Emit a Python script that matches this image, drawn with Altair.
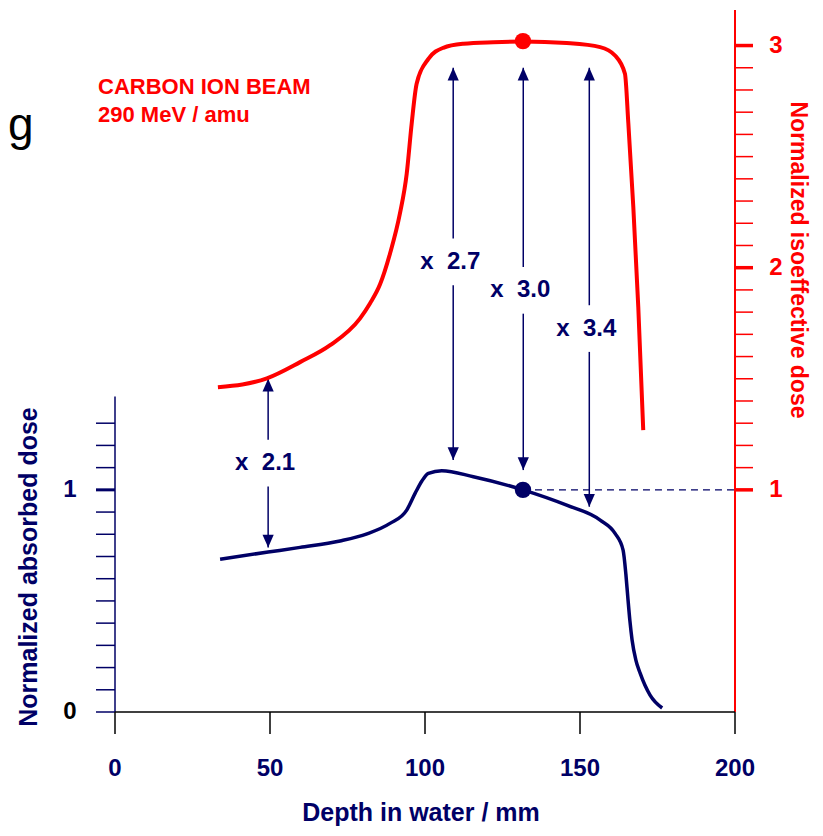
import altair as alt
import pandas as pd

NAVY = "#000066"
RED = "#ff0000"
FONT = "Liberation Sans"

# ---- data ----
abs_depth = [33.9, 49.4, 59.7, 72.6, 81.3, 88.7, 94.1, 96.8, 99.0, 101.1, 105.4, 115.6, 131.6,
             145.7, 156.5, 161.3, 163.9, 164.8, 165.4, 166.1, 166.8, 168.0, 169.4, 172.6, 176.5]
abs_dose = [0.688, 0.720, 0.741, 0.770, 0.802, 0.849, 0.909, 0.984, 1.040, 1.074, 1.086, 1.059, 1.000,
            0.931, 0.864, 0.804, 0.729, 0.620, 0.520, 0.410, 0.324, 0.235, 0.175, 0.076, 0.018]

iso_depth = [33.2, 49.0, 59.7, 69.4, 79.0, 82.3, 85.5, 88.7, 91.9, 94.1, 95.7, 97.3, 101.1, 105.9,
             112.4, 122.0, 131.6, 145.7, 156.5, 161.3, 164.5, 165.6, 167.2, 168.8, 170.4]
iso_dose = [1.462, 1.502, 1.575, 1.651, 1.771, 1.840, 1.925, 2.063, 2.243, 2.423, 2.648, 2.828, 2.940, 2.990,
            3.008, 3.015, 3.018, 3.011, 2.993, 2.955, 2.873, 2.648, 2.273, 1.823, 1.269]

ref_depth = 131.6
ref_abs = 1.0
ref_iso = 3.02

arrow_depth = [49.4, 109.1, 131.7, 153.0]
arrow_top = [1.50, 2.90, 2.90, 2.90]
arrow_bottom = [0.74, 1.134, 1.089, 0.924]
label_level = [1.12, 2.026, 1.898, 1.726]
ratio_labels = ["2.1", "2.7", "3.0", "3.4"]
label_gap = 0.105

x_ticks = [0, 50, 100, 150, 200]
left_ticks = [0.0, 0.1, 0.2, 0.3, 0.4, 0.5, 0.6, 0.7, 0.8, 0.9, 1.0, 1.1, 1.2, 1.3]
left_labels = [0, 1]
left_axis_top = 1.42
right_ticks = [1.0, 1.1, 1.2, 1.3, 1.4, 1.5, 1.6, 1.7, 1.8, 1.9, 2.0, 2.1, 2.2, 2.3, 2.4,
               2.5, 2.6, 2.7, 2.8, 2.9, 3.0]
right_labels = [1, 2, 3]
right_axis_top = 3.16
x_max = 200

# ---- scales ----
xs = alt.Scale(domain=[0, 200], nice=False, zero=False)
ys = alt.Scale(domain=[0, 3.16], nice=False, zero=False)


def X(f):
    return alt.X(f, type="quantitative", scale=xs, axis=None)


def Y(f):
    return alt.Y(f, type="quantitative", scale=ys, axis=None)


# ---- curves ----
abs_df = pd.DataFrame({"d": abs_depth, "v": abs_dose})
iso_df = pd.DataFrame({"d": iso_depth, "v": iso_dose})

abs_line = alt.Chart(abs_df).mark_line(color=NAVY, strokeWidth=3.5, interpolate="monotone").encode(
    x=X("d"), y=Y("v"), order="d:Q")
iso_line = alt.Chart(iso_df).mark_line(color=RED, strokeWidth=4, interpolate="monotone").encode(
    x=X("d"), y=Y("v"), order="d:Q")

dots_df = pd.DataFrame({"d": [ref_depth, ref_depth], "v": [ref_abs, ref_iso], "c": [NAVY, RED]})
dots = alt.Chart(dots_df).mark_circle(size=270, opacity=1).encode(
    x=X("d"), y=Y("v"), color=alt.Color("c:N", scale=None))

dash_df = pd.DataFrame({"a": [ref_depth], "b": [x_max], "v": [ref_abs]})
dash = alt.Chart(dash_df).mark_rule(color=NAVY, strokeWidth=1.3, strokeDash=[7, 5]).encode(
    x=X("a"), x2="b", y=Y("v"))

# ---- arrows ----
seg_rows = []
for d, t, b, l in zip(arrow_depth, arrow_top, arrow_bottom, label_level):
    seg_rows.append({"d": d, "y1": t, "y2": l + label_gap})
    seg_rows.append({"d": d, "y1": l - label_gap, "y2": b})
seg_df = pd.DataFrame(seg_rows)
stems = alt.Chart(seg_df).mark_rule(color=NAVY, strokeWidth=1.5).encode(
    x=X("d"), y=Y("y1"), y2="y2")

arr_df = pd.DataFrame({"d": arrow_depth, "top": arrow_top, "bottom": arrow_bottom})
heads_up = alt.Chart(arr_df).mark_point(
    shape="M0,0L-0.7,1.6L0.7,1.6Z", filled=True, size=256, color=NAVY, opacity=1, strokeWidth=0
).encode(x=X("d"), y=Y("top"))
heads_down = alt.Chart(arr_df).mark_point(
    shape="M0,0L-0.7,-1.6L0.7,-1.6Z", filled=True, size=256, color=NAVY, opacity=1, strokeWidth=0
).encode(x=X("d"), y=Y("bottom"))

lab_df = pd.DataFrame({"d": arrow_depth, "v": label_level,
                       "t": ["x\u00a0\u00a0" + s for s in ratio_labels]})
ratio_text = alt.Chart(lab_df).mark_text(
    font=FONT, fontSize=24, fontWeight="bold", color=NAVY, align="center", baseline="middle", dx=-3
).encode(x=X("d"), y=Y("v"), text="t:N")

# ---- left axis ----
left_line = alt.Chart(pd.DataFrame({"d": [0], "a": [0], "b": [left_axis_top]})).mark_rule(
    color=NAVY, strokeWidth=1.5).encode(x=X("d"), y=Y("a"), y2="b")
lt_df = pd.DataFrame({"v": left_ticks, "w": [3 if t == 1.0 else 1.5 for t in left_ticks]})
left_tk = alt.Chart(lt_df).mark_rule(color=NAVY).encode(
    y=Y("v"), x=alt.value(-19), x2=alt.value(0), strokeWidth=alt.StrokeWidth("w:Q", scale=None))
ll_df = pd.DataFrame({"v": left_labels, "t": [str(v) for v in left_labels],
                      "c": ["#000000", NAVY]})
left_lab = alt.Chart(ll_df).mark_text(
    font=FONT, fontSize=24, fontWeight="bold", align="center", baseline="middle"
).encode(y=Y("v"), x=alt.value(-45), text="t:N", color=alt.Color("c:N", scale=None))
left_title = alt.Chart(pd.DataFrame({"t": ["Normalized absorbed dose"]})).mark_text(
    font=FONT, fontSize=25, fontWeight="bold", color=NAVY, angle=270, align="center", baseline="middle"
).encode(x=alt.value(-86), y=alt.value(557), text="t:N")

# ---- right axis ----
right_line = alt.Chart(pd.DataFrame({"d": [x_max], "a": [0], "b": [right_axis_top]})).mark_rule(
    color=RED, strokeWidth=2).encode(x=X("d"), y=Y("a"), y2="b")
rt_df = pd.DataFrame({"v": right_ticks,
                      "w": [3.5 if abs(t - round(t)) < 1e-9 else 1.5 for t in right_ticks]})
right_tk = alt.Chart(rt_df).mark_rule(color=RED).encode(
    y=Y("v"), x=alt.value(620), x2=alt.value(638), strokeWidth=alt.StrokeWidth("w:Q", scale=None))
rl_df = pd.DataFrame({"v": right_labels, "t": [str(v) for v in right_labels]})
right_lab = alt.Chart(rl_df).mark_text(
    font=FONT, fontSize=24, fontWeight="bold", color=RED, align="center", baseline="middle"
).encode(y=Y("v"), x=alt.value(661), text="t:N")
right_title = alt.Chart(pd.DataFrame({"t": ["Normalized isoeffective dose"]})).mark_text(
    font=FONT, fontSize=23, fontWeight="bold", color=RED, angle=90, align="center", baseline="middle"
).encode(x=alt.value(683), y=alt.value(250), text="t:N")

# ---- x axis ----
x_line = alt.Chart(pd.DataFrame({"a": [0], "b": [x_max], "v": [0]})).mark_rule(
    color="#000000", strokeWidth=1.5).encode(x=X("a"), x2="b", y=Y("v"))
xt_df = pd.DataFrame({"d": x_ticks, "t": [str(v) for v in x_ticks]})
x_tk = alt.Chart(xt_df).mark_rule(color="#000000", strokeWidth=1.5).encode(
    x=X("d"), y=alt.value(702), y2=alt.value(724))
x_lab = alt.Chart(xt_df).mark_text(
    font=FONT, fontSize=24, fontWeight="bold", color=NAVY, align="center", baseline="middle"
).encode(x=X("d"), y=alt.value(759), text="t:N")
x_title = alt.Chart(pd.DataFrame({"t": ["Depth in water / mm"]})).mark_text(
    font=FONT, fontSize=25, fontWeight="bold", color=NAVY, align="center", baseline="alphabetic"
).encode(x=alt.value(306), y=alt.value(811), text="t:N")

# ---- annotations ----
beam_df = pd.DataFrame({"t": ["CARBON ION BEAM", "290 MeV / amu"], "yy": [77, 105]})
beam = alt.Chart(beam_df).mark_text(
    font=FONT, fontSize=22, fontWeight="bold", color=RED, align="left", baseline="middle"
).encode(x=alt.value(-17), y=alt.Y("yy:Q", scale=None), text="t:N")
g_txt = alt.Chart(pd.DataFrame({"t": ["g"]})).mark_text(
    font=FONT, fontSize=46, color="#000000", align="left", baseline="alphabetic"
).encode(x=alt.value(-107), y=alt.value(130), text="t:N")

chart = alt.layer(
    left_line, left_tk, left_lab, left_title,
    right_line, right_tk, right_lab, right_title,
    x_line, x_tk, x_lab, x_title,
    dash, stems, heads_up, heads_down, ratio_text,
    iso_line, abs_line, dots, beam, g_txt,
).properties(
    width=620, height=702,
    autosize=alt.AutoSizeParams(type="none"),
    padding={"left": 107, "top": 2, "right": 80, "bottom": 116},
).configure_view(stroke=None)

chart.save("out.html", embed_options={"renderer": "svg", "actions": False})
